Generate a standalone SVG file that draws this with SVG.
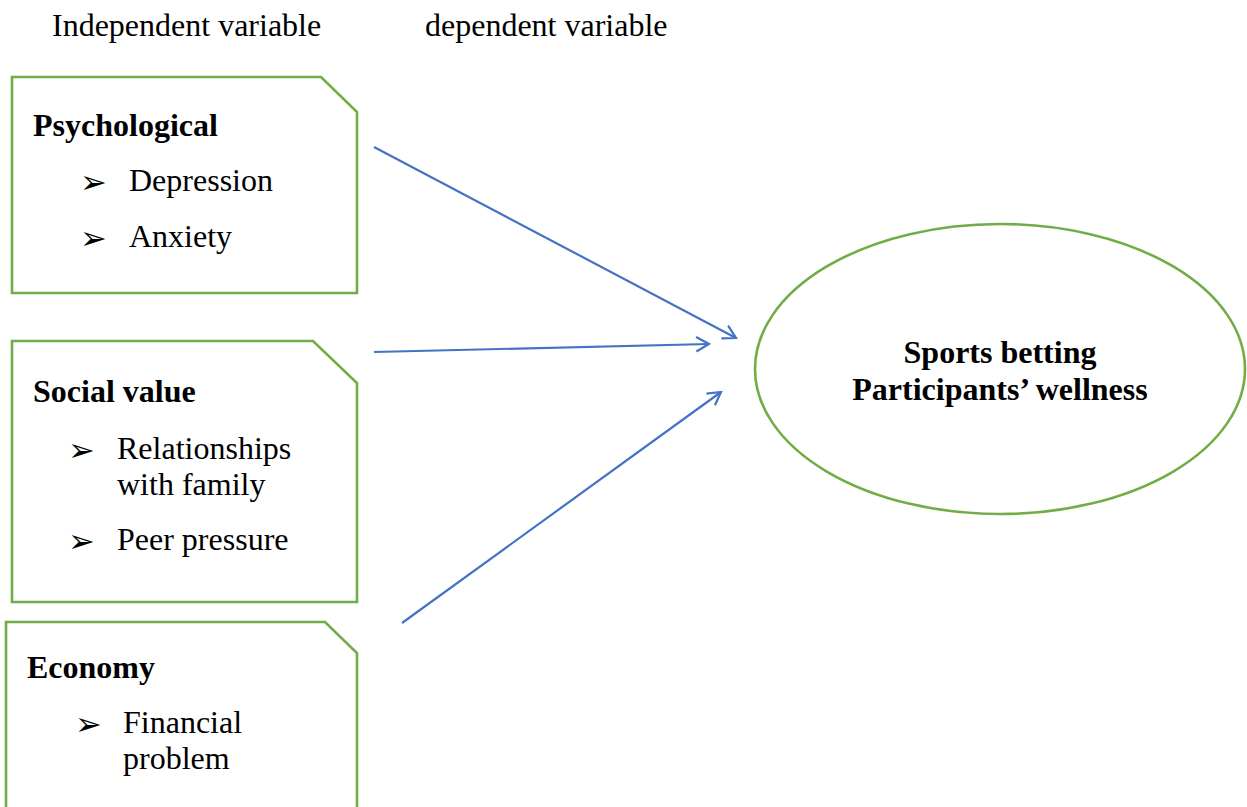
<svg xmlns="http://www.w3.org/2000/svg" width="1247" height="807" viewBox="0 0 1247 807">
<defs>
<style>
.t{font-family:"Liberation Serif","Times New Roman",serif;font-size:32px;fill:#000}
.b{font-weight:bold}
.bul{font-family:"DejaVu Sans",sans-serif;font-size:32px;fill:#000}
.box{fill:#fff;stroke:#70ad47;stroke-width:2.6}
.con{stroke:#4472c4;stroke-width:2.2;fill:none;marker-end:url(#ah)}
</style>
<marker id="ah" viewBox="0 0 20 20" refX="18" refY="10" markerWidth="17" markerHeight="17" markerUnits="userSpaceOnUse" orient="auto">
<path d="M3,1.5 L18,10 L3,18.5" fill="none" stroke="#4472c4" stroke-width="2.6"/>
</marker>
</defs>
<rect width="1247" height="807" fill="#fff"/>
<text class="t" x="52" y="36">Independent variable</text>
<text class="t" x="425" y="36">dependent variable</text>
<g id="psychological">
<path class="box" d="M12,77 H321 L357,112 V293 H12 Z"/>
<text class="t b" x="33" y="136">Psychological</text>
<text class="bul" x="80" y="193">➢</text>
<text class="t" x="129" y="191">Depression</text>
<text class="bul" x="80" y="249">➢</text>
<text class="t" x="129" y="247">Anxiety</text>
</g>
<g id="social">
<path class="box" d="M12,341 H313 L357,383 V602 H12 Z"/>
<text class="t b" x="33" y="402">Social value</text>
<text class="bul" x="68" y="461">➢</text>
<text class="t" x="117" y="459">Relationships</text>
<text class="t" x="117" y="495">with family</text>
<text class="bul" x="68" y="552">➢</text>
<text class="t" x="117" y="550">Peer pressure</text>
</g>
<g id="economy">
<path class="box" d="M6,809 V622 H325 L357,653 V809"/>
<text class="t b" x="27" y="678">Economy</text>
<text class="bul" x="75" y="735">➢</text>
<text class="t" x="123" y="733">Financial</text>
<text class="t" x="123" y="769">problem</text>
</g>
<g id="wellness">
<ellipse cx="1000" cy="369" rx="245" ry="145" fill="#fff" stroke="#70ad47" stroke-width="2.6"/>
<text class="t b" x="1000" y="363" text-anchor="middle">Sports betting</text>
<text class="t b" x="1000" y="400" text-anchor="middle">Participants’ wellness</text>
</g>
<g id="connectors">
<line class="con" x1="374" y1="147" x2="736" y2="338"/>
<line class="con" x1="374" y1="352" x2="709" y2="344"/>
<line class="con" x1="402" y1="623" x2="721" y2="392"/>
</g>
</svg>
